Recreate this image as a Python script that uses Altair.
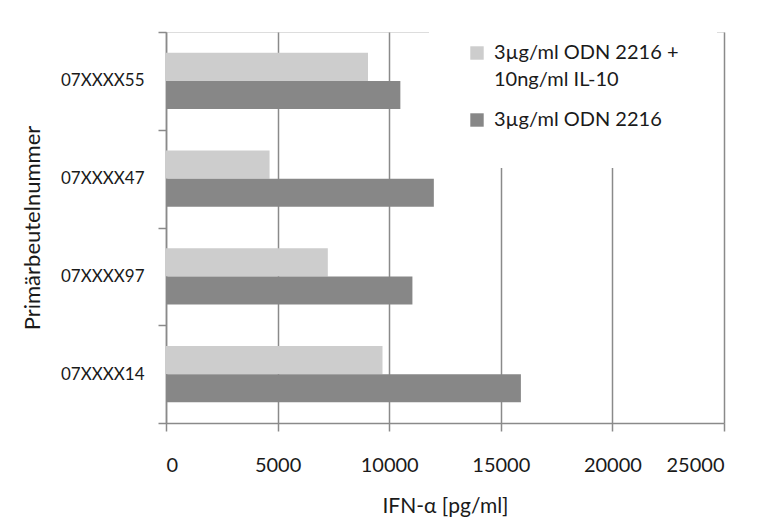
import altair as alt
import pandas as pd

# Samples (top to bottom) and IFN-alpha values in pg/ml
proben = ["07XXXX55", "07XXXX47", "07XXXX97", "07XXXX14"]
bedingungen = ["3µg/ml ODN 2216 + 10ng/ml IL-10", "3µg/ml ODN 2216"]
ifn_mit_il10 = [9050, 4640, 7250, 9700]
ifn_ohne_il10 = [10500, 12000, 11040, 15900]
farben = ["#cdcdcd", "#878787"]
x_ticks = [0, 5000, 10000, 15000, 20000, 25000]

rows = []
for probe, mit, ohne in zip(proben, ifn_mit_il10, ifn_ohne_il10):
    rows.append({"Probe": probe, "Bedingung": bedingungen[0], "IFN": mit})
    rows.append({"Probe": probe, "Bedingung": bedingungen[1], "IFN": ohne})
df = pd.DataFrame(rows)

FONT = "Lato"
TEXT = "#1a1a1a"
LINE = "#8a8a8a"

# split the combined treatment label after the "+"
label_expr = (
    "indexof(datum.label, '+') > 0 ? "
    "[substring(datum.label, 0, indexof(datum.label, '+') + 1), "
    "substring(datum.label, indexof(datum.label, '+') + 2)] : datum.label"
)

chart = (
    alt.Chart(df)
    .mark_bar()
    .encode(
        x=alt.X(
            "IFN:Q",
            scale=alt.Scale(domain=[0, 25000], nice=False),
            axis=alt.Axis(
                values=x_ticks,
                format="d",
                title="IFN-α [pg/ml]",
                grid=True,
                gridColor=LINE,
                gridWidth=1.5,
                domainColor=LINE,
                domainWidth=1.5,
                tickColor=LINE,
                tickWidth=1.5,
                tickSize=8,
                labelPadding=24,
                labelFont=FONT,
                labelFontSize=20,
                labelColor=TEXT,
                titleFont=FONT,
                titleFontSize=21,
                titleFontWeight="normal",
                titleColor=TEXT,
                titlePadding=20,
            ),
        ),
        y=alt.Y(
            "Probe:N",
            sort=proben,
            scale=alt.Scale(paddingInner=0, paddingOuter=0),
            axis=alt.Axis(
                title="Primärbeutelnummer",
                tickBand="extent",
                grid=False,
                domainColor=LINE,
                domainWidth=1.5,
                tickColor=LINE,
                tickWidth=1.5,
                tickSize=8,
                labelPadding=14,
                labelFont=FONT,
                labelFontSize=17,
                labelColor=TEXT,
                titleFont=FONT,
                titleFontSize=22,
                titleFontWeight="normal",
                titleColor=TEXT,
                titlePadding=16,
            ),
        ),
        yOffset=alt.YOffset(
            "Bedingung:N",
            sort=bedingungen,
            scale=alt.Scale(paddingInner=0, paddingOuter=0.745),
        ),
        color=alt.Color(
            "Bedingung:N",
            sort=bedingungen,
            scale=alt.Scale(domain=bedingungen, range=farben),
            legend=alt.Legend(
                title=None,
                orient="none",
                legendX=263,
                legendY=-27,
                fillColor="white",
                padding=38,
                symbolType="square",
                symbolSize=180,
                symbolStrokeWidth=0,
                labelFont=FONT,
                labelFontSize=20,
                labelColor=TEXT,
                labelExpr=label_expr,
                labelLimit=400,
                labelOffset=7,
                rowPadding=20,
            ),
        ),
    )
    .properties(
        width=558,
        height=391,
        autosize=alt.AutoSizeParams(type="none"),
        padding={"left": 166, "top": 32, "right": 44, "bottom": 98},
        background="white",
    )
    .configure_view(stroke=None)
    .configure(style={"guide-label": {"lineHeight": 27}})
)

chart.save("out.html", embed_options={"renderer": "svg", "actions": False})
